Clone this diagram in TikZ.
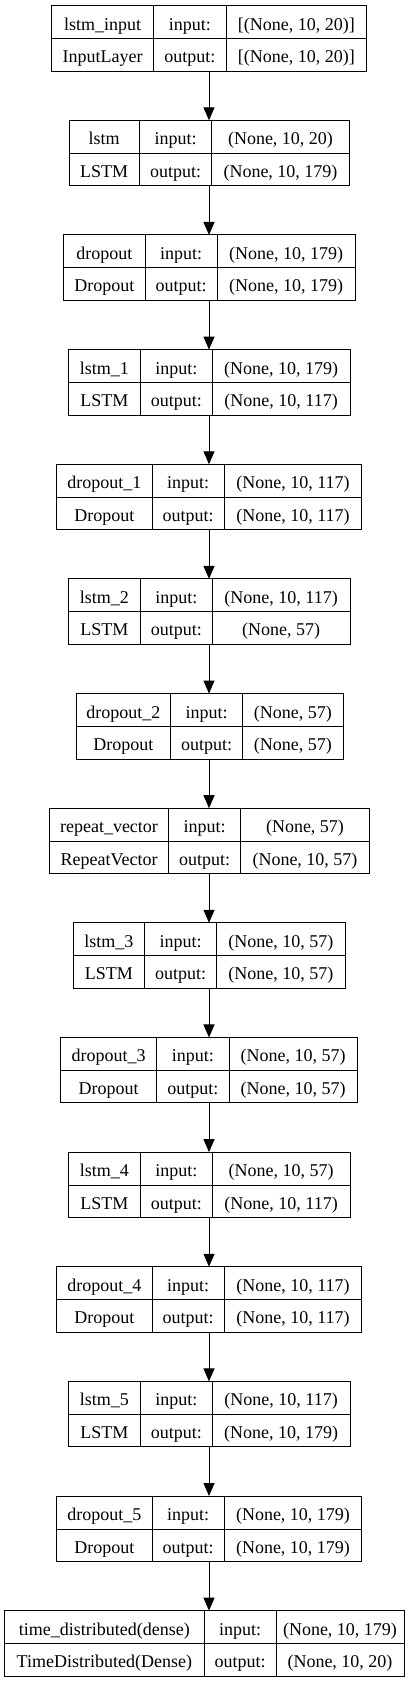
\documentclass[tikz,border=0pt]{standalone}
\usepackage{fontspec}
\setmainfont{Liberation Serif}
\usetikzlibrary{arrows.meta}
\tikzset{
  box/.style={draw, line width=1pt, inner sep=0pt, outer sep=0pt, minimum height=65.5pt},
  rule/.style={line width=1pt},
  txt/.style={inner sep=0pt, anchor=base, font=\fontsize{18}{20}\selectfont},
  arr/.style={line width=1pt, -{Triangle[length=13pt, width=11pt]}}
}
% index, left, div1, div2, right, name, type, in, out
\newcommand\kerasLayer[9]{%
  \pgfmathsetmacro\KLt{5.7+(#1-1)*114.64}%
  \pgfmathsetmacro\KLa{\KLt+24.5}%
  \pgfmathsetmacro\KLb{\KLt+57}%
  \pgfmathsetmacro\KLm{\KLt+33}%
  \pgfmathsetmacro\KLh{\KLt+65.5}%
  \node[box, minimum width={(#5-#2)*1pt}, anchor=north west] (L#1) at (#2,\KLt) {};
  \draw[rule] (#3,\KLt) -- (#3,\KLh);
  \draw[rule] (#4,\KLt) -- (#4,\KLh);
  \draw[rule] (#2,\KLm) -- (#5,\KLm);
  \node[txt] (L#1name) at ({(#2+#3)/2},\KLa) {#6};
  \node[txt] (L#1type) at ({(#2+#3)/2},\KLb) {#7};
  \node[txt] (L#1in) at ({(#3+#4)/2},\KLa) {input:};
  \node[txt] (L#1out) at ({(#3+#4)/2},\KLb) {output:};
  \node[txt] (L#1iv) at ({(#4+#5)/2},\KLa) {#8};
  \node[txt] (L#1ov) at ({(#4+#5)/2},\KLb) {#9};
}
\begin{document}
\begin{tikzpicture}[x=1pt, y=-1pt]
\useasboundingbox (0,0) rectangle (419,1683);
\coordinate (ax) at (209,0);
\kerasLayer{1}{51.7}{153.7}{226}{366.7}{lstm\_input}{InputLayer}{[(None, 10, 20)]}{[(None, 10, 20)]}
\kerasLayer{2}{69}{139.3}{211.7}{349.3}{lstm}{LSTM}{(None, 10, 20)}{(None, 10, 179)}
\kerasLayer{3}{63.7}{145}{217.3}{355}{dropout}{Dropout}{(None, 10, 179)}{(None, 10, 179)}
\kerasLayer{4}{68.3}{140.3}{212.3}{350}{lstm\_1}{LSTM}{(None, 10, 179)}{(None, 10, 117)}
\kerasLayer{5}{56.7}{152}{224.3}{361.7}{dropout\_1}{Dropout}{(None, 10, 117)}{(None, 10, 117)}
\kerasLayer{6}{68.3}{140.3}{212.3}{350}{lstm\_2}{LSTM}{(None, 10, 117)}{(None, 57)}
\kerasLayer{7}{76}{170.7}{242.3}{343.3}{dropout\_2}{Dropout}{(None, 57)}{(None, 57)}
\kerasLayer{8}{49.3}{168.7}{240.7}{369.3}{repeat\_vector}{RepeatVector}{(None, 57)}{(None, 10, 57)}
\kerasLayer{9}{73.3}{144.3}{216.7}{345}{lstm\_3}{LSTM}{(None, 10, 57)}{(None, 10, 57)}
\kerasLayer{10}{60.7}{156.7}{229}{357.3}{dropout\_3}{Dropout}{(None, 10, 57)}{(None, 10, 57)}
\kerasLayer{11}{68.3}{140.3}{212.3}{350}{lstm\_4}{LSTM}{(None, 10, 57)}{(None, 10, 117)}
\kerasLayer{12}{56.7}{152}{224.3}{361.7}{dropout\_4}{Dropout}{(None, 10, 117)}{(None, 10, 117)}
\kerasLayer{13}{68.3}{140.3}{212.3}{350}{lstm\_5}{LSTM}{(None, 10, 117)}{(None, 10, 179)}
\kerasLayer{14}{56.7}{152}{224.3}{361.7}{dropout\_5}{Dropout}{(None, 10, 179)}{(None, 10, 179)}
\kerasLayer{15}{4.7}{204}{276}{404}{time\_distributed(dense)}{TimeDistributed(Dense)}{(None, 10, 179)}{(None, 10, 20)}
\foreach \i [evaluate=\i as \j using int(\i+1)] in {1,...,14}
  \draw[arr] (L\i.south -| ax) -- (L\j.north -| ax);
\end{tikzpicture}
\end{document}
